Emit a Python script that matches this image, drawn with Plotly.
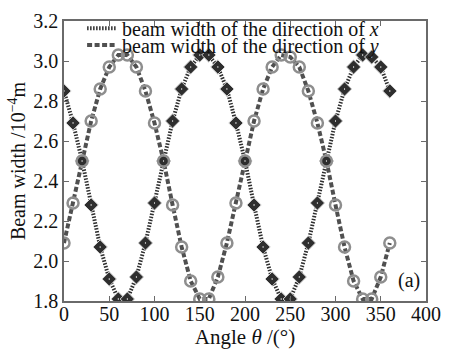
import plotly.graph_objects as go

angle = list(range(0, 361, 10))
width_x = [2.85, 2.69, 2.50, 2.28, 2.07, 1.91, 1.81, 1.81, 1.92, 2.09,
           2.29, 2.50, 2.70, 2.86, 2.97, 3.03, 3.03, 2.97, 2.86, 2.69,
           2.50, 2.28, 2.07, 1.91, 1.81, 1.81, 1.92, 2.09, 2.29, 2.50,
           2.70, 2.86, 2.97, 3.03, 3.02, 2.97, 2.85]
width_y = [2.09, 2.29, 2.50, 2.70, 2.86, 2.97, 3.03, 3.03, 2.97, 2.85,
           2.69, 2.50, 2.28, 2.07, 1.90, 1.81, 1.81, 1.92, 2.09, 2.29,
           2.50, 2.70, 2.86, 2.97, 3.03, 3.02, 2.97, 2.85, 2.69, 2.50,
           2.28, 2.07, 1.90, 1.81, 1.81, 1.92, 2.09]
x_ticks = [0, 50, 100, 150, 200, 250, 300, 350, 400]
y_ticks = [1.8, 2.0, 2.2, 2.4, 2.6, 2.8, 3.0, 3.2]

FONT = "Liberation Serif"
DARK = "#2e2e2e"
GREY = "#8e8e8e"
TXT = "#111111"

fig = go.Figure()
fig.add_trace(go.Scatter(x=angle, y=width_x, mode="lines",
                         line=dict(color=DARK, width=4, dash="1.5px,1.5px"),
                         name="beam width of the direction of <i>x</i>",
                         legend="legend"))
fig.add_trace(go.Scatter(x=angle, y=width_y, mode="lines",
                         line=dict(color="#505050", width=4, dash="5px,2.5px"),
                         name="beam width of the direction of <i>y</i>",
                         legend="legend2"))
fig.add_trace(go.Scatter(x=angle, y=width_x, mode="markers", showlegend=False,
                         marker=dict(symbol="diamond-dot", size=11, color=DARK,
                                     line=dict(color="#d8d8d8", width=1))))
fig.add_trace(go.Scatter(x=angle, y=width_y, mode="markers", showlegend=False,
                         marker=dict(symbol="circle-open", size=11, color=GREY,
                                     line=dict(color=GREY, width=2.5))))

axis_common = dict(showgrid=False, zeroline=False, showline=True,
                   linecolor="#6a6a6a", linewidth=1.5, mirror="ticks",
                   ticks="inside", ticklen=5, tickcolor="#6a6a6a",
                   tickfont=dict(family=FONT, size=20, color=TXT))

fig.update_xaxes(range=[0, 400], tickvals=x_ticks,
                 ticktext=[str(v) for v in x_ticks],
                 ticklabelstandoff=-6,
                 title=dict(text="Angle <i>θ</i> /(°)",
                            font=dict(family=FONT, size=21, color=TXT),
                            standoff=6),
                 **axis_common)
fig.update_yaxes(range=[1.8, 3.2], tickvals=y_ticks,
                 ticktext=[f"{v:.1f}" for v in y_ticks],
                 title=dict(text="Beam width /10<sup>−4</sup>m",
                            font=dict(family=FONT, size=20, color=TXT),
                            standoff=2),
                 **axis_common)

fig.add_annotation(xref="paper", yref="paper", x=0.99, y=0.025,
                   xanchor="right", yanchor="bottom", showarrow=False,
                   text="(a)", font=dict(family=FONT, size=20, color=TXT))

leg_common = dict(xanchor="left", yanchor="middle",
                  bgcolor="rgba(0,0,0,0)", borderwidth=0,
                  font=dict(family=FONT, size=20, color=TXT),
                  itemwidth=30)

fig.update_layout(
    width=450, height=354,
    margin=dict(l=64, r=17, t=9, b=52),
    paper_bgcolor="white", plot_bgcolor="white",
    showlegend=True,
    legend=dict(x=0.05, y=0.974, **leg_common),
    legend2=dict(x=0.05, y=0.914, **leg_common),
)

fig.write_html("out.html")
